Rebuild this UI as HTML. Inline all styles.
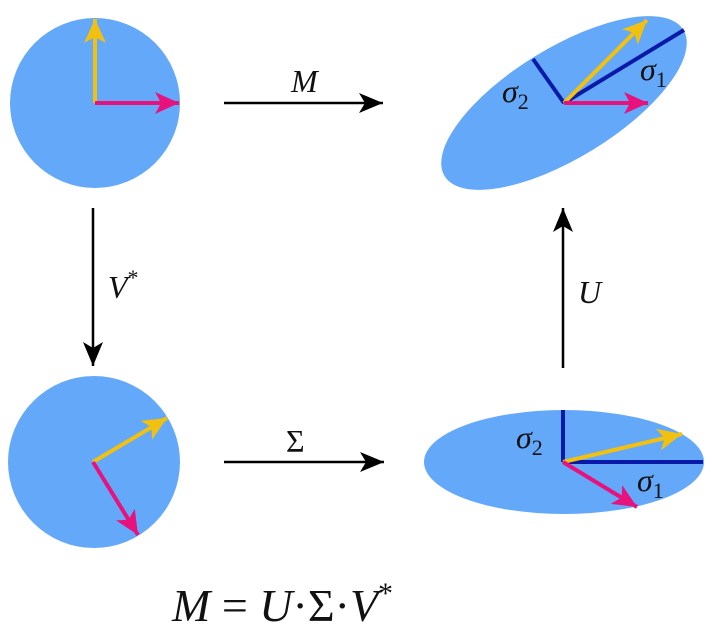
<!DOCTYPE html>
<html><head><meta charset="utf-8"><style>
html,body{margin:0;padding:0;background:#fff;width:712px;height:642px;overflow:hidden}
.i{font-family:"Liberation Serif",serif;font-style:italic}
.n{font-style:normal}
</style></head><body>
<svg width="712" height="642" viewBox="0 0 712 642" xmlns="http://www.w3.org/2000/svg">
<defs>
<marker id="k" markerUnits="userSpaceOnUse" markerWidth="28" markerHeight="28" refX="24" refY="12" orient="auto"><path d="M0,2 L24,12 L0,22 L6,12 Z" fill="#000"/></marker>
<marker id="y" markerUnits="userSpaceOnUse" markerWidth="28" markerHeight="28" refX="24" refY="12" orient="auto"><path d="M0,1 L24,12 L0,23 L6,12 Z" fill="#F2C10F"/></marker>
<marker id="m" markerUnits="userSpaceOnUse" markerWidth="28" markerHeight="28" refX="24" refY="12" orient="auto"><path d="M0,1 L24,12 L0,23 L6,12 Z" fill="#E8127D"/></marker>
</defs>
<g stroke-width="4" fill="none">
<circle cx="95" cy="103" r="85" fill="#64A8FA" stroke="none"/>
<line x1="95" y1="103" x2="95" y2="19" stroke="#F2C10F" marker-end="url(#y)"/>
<line x1="95" y1="103" x2="179" y2="103" stroke="#E8127D" marker-end="url(#m)"/>
<ellipse cx="564" cy="103" rx="140" ry="55" transform="rotate(-31.5 564 103)" fill="#64A8FA" stroke="none"/>
<line x1="564" y1="103" x2="684" y2="30" stroke="#0A1AA8"/>
<line x1="564" y1="103" x2="533" y2="59" stroke="#0A1AA8"/>
<line x1="564" y1="103" x2="647" y2="20" stroke="#F2C10F" marker-end="url(#y)"/>
<line x1="564" y1="103" x2="648" y2="103" stroke="#E8127D" marker-end="url(#m)"/>
<circle cx="94" cy="462" r="86" fill="#64A8FA" stroke="none"/>
<line x1="93" y1="462" x2="167" y2="418" stroke="#F2C10F" marker-end="url(#y)"/>
<line x1="93" y1="462" x2="138" y2="535" stroke="#E8127D" marker-end="url(#m)"/>
<ellipse cx="564" cy="462" rx="140" ry="52" fill="#64A8FA" stroke="none"/>
<line x1="563" y1="462" x2="703" y2="462" stroke="#0A1AA8"/>
<line x1="563" y1="462" x2="563" y2="410" stroke="#0A1AA8"/>
<line x1="563" y1="462" x2="682" y2="434" stroke="#F2C10F" marker-end="url(#y)"/>
<line x1="563" y1="462" x2="637" y2="507" stroke="#E8127D" marker-end="url(#m)"/>
</g>
<g stroke="#000" stroke-width="2.5">
<line x1="224" y1="103" x2="383" y2="103" marker-end="url(#k)"/>
<line x1="224" y1="462" x2="384" y2="462" marker-end="url(#k)"/>
<line x1="93" y1="208" x2="93" y2="366" marker-end="url(#k)"/>
<line x1="563" y1="368" x2="563" y2="208" marker-end="url(#k)"/>
</g>
<g fill="#111" font-size="32" class="i">
<text x="291" y="92">M</text>
<text x="286" y="452" class="n">Σ</text>
<text x="108" y="298">V<tspan font-size="22" dy="-13" class="n">*</tspan></text>
<text x="578" y="303">U</text>
<text x="502" y="102">σ<tspan font-size="22" dy="7" class="n">2</tspan></text>
<text x="640" y="80">σ<tspan font-size="22" dy="7" class="n">1</tspan></text>
<text x="516" y="448">σ<tspan font-size="22" dy="7" class="n">2</tspan></text>
<text x="637" y="491">σ<tspan font-size="22" dy="7" class="n">1</tspan></text>
<text x="172" y="621" font-size="46">M <tspan class="n">=</tspan> U<tspan class="n">·Σ·</tspan>V<tspan font-size="30" dy="-18" class="n">*</tspan></text>
</g>
</svg>
</body></html>
